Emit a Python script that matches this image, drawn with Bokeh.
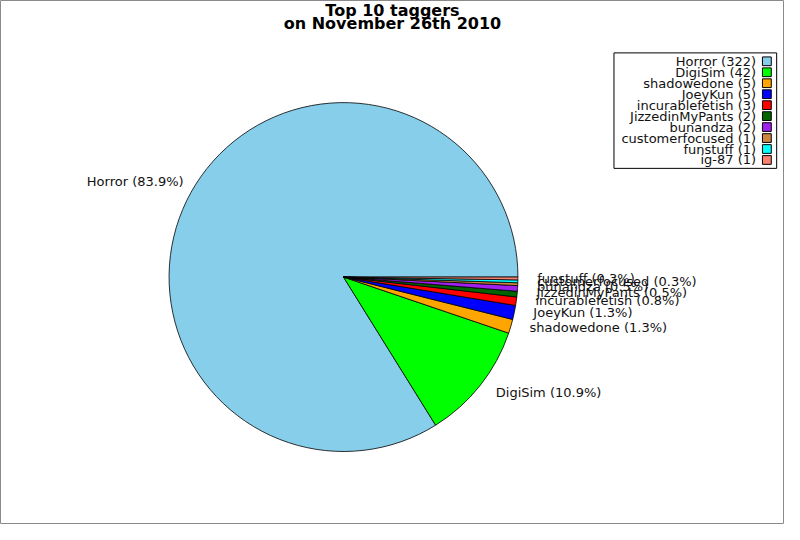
import numpy as np
from bokeh.plotting import figure
from bokeh.models import Range1d, ColumnDataSource
from bokeh.core.properties import value
from bokeh.embed import file_html
from bokeh.resources import INLINE

# ---- data ----
names = ["Horror", "DigiSim", "shadowedone", "JoeyKun", "incurablefetish",
         "JizzedinMyPants", "bunandza", "customerfocused", "funstuff", "ig-87"]
counts = [322, 42, 5, 5, 3, 2, 2, 1, 1, 1]
colors = ["#87CEEB", "#00FF00", "#FFA500", "#0000FF", "#FF0000",
          "#006400", "#A020F0", "#CD853F", "#00FFFF", "#FA8072"]
title_lines = ["Top 10 taggers", "on November 26th 2010"]

FONT = "DejaVu Sans"
W, H = 800, 540  # reference pixel space

p = figure(width=784, height=524, output_backend="svg", toolbar_location=None,
           x_range=Range1d(0, W), y_range=Range1d(0, H), min_border=0,
           background_fill_color="white", border_fill_color="white")
p.axis.visible = False
p.grid.visible = False
p.outline_line_color = "#8a8a8a"
p.outline_line_width = 1

def Y(y):  # reference screen y -> data y
    return H - y

# ---- pie ----
cx, cy, R = 350.0, Y(285), 178.0
vals = np.array(counts, dtype=float)
frac = vals / vals.sum()
ends = np.cumsum(frac) * 2 * np.pi
starts = np.concatenate([[0.0], ends[:-1]])
src = ColumnDataSource(dict(start=starts, end=ends, color=colors))
p.wedge(x=cx, y=cy, radius=R, start_angle="start", end_angle="end",
        direction="anticlock", fill_color="color", line_color="black",
        line_width=0.8, source=src)

# ---- slice labels ----
mids = (starts + ends) / 2
lr = R * 1.1
lab_x, lab_y, lab_t, lab_align = [], [], [], []
for i, (n, f, m) in enumerate(zip(names, frac, mids)):
    if i == len(names) - 1:
        continue
    lab_x.append(cx + lr * np.cos(m) + (2 if np.cos(m) >= 0 else 8))
    lab_y.append(cy + lr * np.sin(m) + 3)
    lab_t.append(f"{n} ({f*100:.1f}%)")
    lab_align.append("left" if np.cos(m) >= 0 else "right")
p.text(x=lab_x, y=lab_y, text=lab_t, text_align=lab_align,
       text_baseline="middle", text_font=value(FONT), text_font_size="13px",
       text_color="#111111")

# ---- title ----
p.text(x=[400, 400], y=[Y(10), Y(24)], text=title_lines, text_align="center",
       text_baseline="middle", text_font=value(FONT), text_font_size="16px",
       text_font_style="bold", text_color="black")

# ---- legend ----
bx0, bx1, by0, by1 = 626, 792, 54, 173
p.quad(left=bx0, right=bx1, top=Y(by0), bottom=Y(by1), fill_color="white",
       line_color="black", line_width=1)
n = len(names)
step = (by1 - by0 - 6) / n
ly = [Y(by0 + 3 + step * (i + 0.5)) for i in range(n)]
leg_t = [f"{nm} ({c})" for nm, c in zip(names, counts)]
p.text(x=[771] * n, y=ly, text=leg_t, text_align="right", text_baseline="middle",
       text_font=value(FONT), text_font_size="13px", text_color="#111111")
p.rect(x=[782] * n, y=ly, width=9, height=9, fill_color=colors,
       line_color="black", line_width=1)

open("out.html", "w").write(file_html(p, INLINE))
